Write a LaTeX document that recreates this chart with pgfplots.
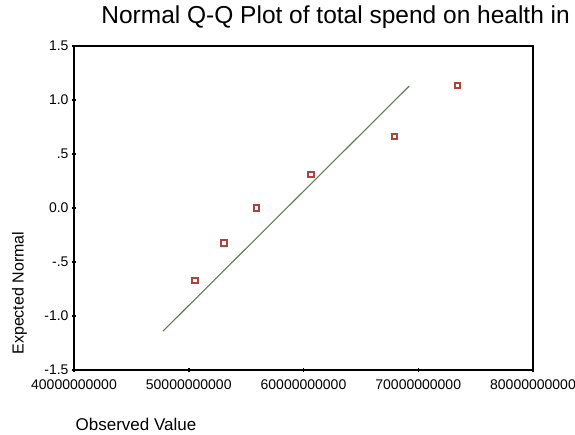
\documentclass[border=0pt]{standalone}
\usepackage{fontspec}
\setmainfont{Liberation Sans}
\usepackage{pgfplots}
\pgfplotsset{compat=1.18}
\definecolor{ptred}{HTML}{B0443C}
\definecolor{fitgreen}{HTML}{5E7D55}
\begin{document}
\begin{tikzpicture}
\useasboundingbox (0,0) rectangle (575pt,435pt);
\begin{axis}[
    scale only axis,
    width=459pt, height=324pt,
    at={(74pt,65pt)}, anchor=south west,
    xmin=4e10, xmax=8e10,
    ymin=-1.5, ymax=1.5,
    xtick={4e10,5e10,6e10,7e10,8e10},
    xticklabels={40000000000,50000000000,60000000000,70000000000,80000000000},
    ytick={-1.5,-1,-0.5,0,0.5,1,1.5},
    yticklabels={-1.5,-1.0,-.5,0.0,.5,1.0,1.5},
    xtick pos=bottom, ytick pos=left,
    scaled x ticks=false,
    tick label style={font=\fontsize{14}{16}\selectfont},
    xticklabel style={yshift=-4pt},
    tick align=center,
    major tick length=4pt,
    tick style={black, line width=1.5pt},
    axis line style={line width=1.5pt},
    title={Normal Q-Q Plot of total spend on health in},
    title style={font=\fontsize{24.5}{28}\selectfont, anchor=base west, at={(axis description cs:0.052,1.051)}},
    xlabel={Observed Value},
    xlabel style={font=\fontsize{17}{20}\selectfont, anchor=base west, at={(axis description cs:-0.004,-0.188)}},
    ylabel={Expected Normal},
    ylabel style={font=\fontsize{16}{19}\selectfont, rotate=0, anchor=base west, at={(axis description cs:-0.110,0.037)}},
]
% fitted normal line
\addplot[color=fitgreen, line width=1.1pt] coordinates {
    (4.776e10, -1.14) (6.922e10, 1.13)
};
% observed values
\addplot[only marks, mark=square, mark size=2.7pt, color=ptred, line width=1.9pt] coordinates {
    (5.054e10, -0.673) (5.307e10, -0.324) (5.592e10, 0.0)
    (6.065e10, 0.312) (6.791e10, 0.66) (7.340e10, 1.132)
};
\end{axis}
\end{tikzpicture}
\end{document}
